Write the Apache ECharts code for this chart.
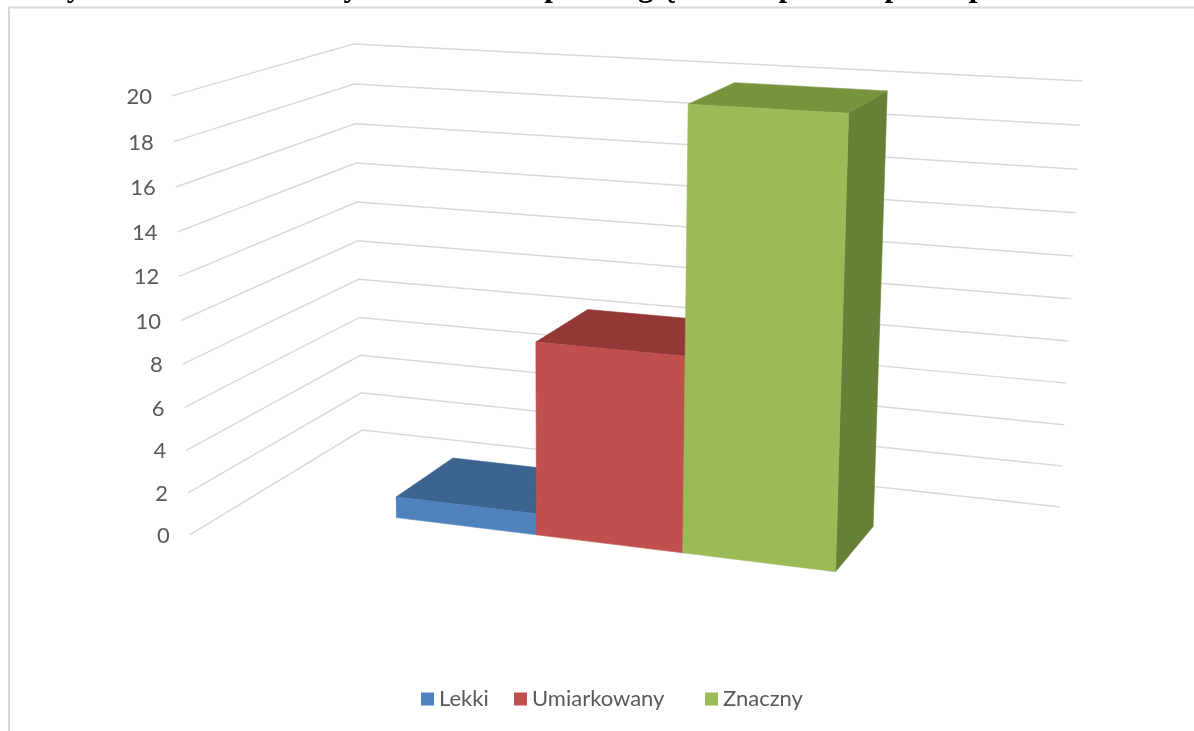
<!DOCTYPE html>
<html><head><meta charset="utf-8">
<script src="https://cdn.jsdelivr.net/npm/echarts@6/dist/echarts.min.js"></script>
<style>html,body{margin:0;padding:0;background:#fff}#c{width:1194px;height:731px}</style>
</head><body><div id="c"></div>
<script>
// ---- data ----
const seriesNames = ['Lekki', 'Umiarkowany', 'Znaczny'];
const seriesValues = [1, 9, 20];
const yTicks = [0, 2, 4, 6, 8, 10, 12, 14, 16, 18, 20];
const titleText = 'Wykres 9. Podział chorych w badaniu pod względem stopnia niepełnosprawności';

// ---- styling ----
const frontColors = ['#4F81BD', '#C0504D', '#9BBB59'];
const topColors = ['#3D6491', '#933836', '#77933C'];
const sideColors = ['#35577F', '#86302E', '#677F37'];
const labelFont = '22px Lato';
const textColor = '#595959';

// ---- 3D scene layout (world units; Y in axis value units) ----
const WALL_W = 36.03, FLOOR_D = 18.13;
const BAR_X0 = 7.70, BAR_W = 6.96, BAR_Z_FRONT = -12.51, BAR_Z_BACK = -5.92;
const CAM = {cx: 550.2, cy: 362.8, f: 2512, T: [-9.745, 3.479, 130.07],
  ex: [0.9320, 0.0905, -0.3511], ey: [-0.0020, -0.9670, -0.2547], ez: [0.3626, -0.2381, 0.9010]};
function proj(X, Y, Z) {
  const c = [0, 1, 2].map(i => CAM.T[i] + X * CAM.ex[i] + Y * CAM.ey[i] + Z * CAM.ez[i]);
  return [CAM.cx + CAM.f * c[0] / c[2], CAM.cy + CAM.f * c[1] / c[2]];
}
const Y_MAX = yTicks[yTicks.length - 1];
// value -> world height through the (hidden) cartesian axes
function worldY(params, api, v) {
  const p = api.coord([0, v]);
  const r = params.coordSys;
  return (r.y + r.height - p[1]) / r.height * Y_MAX;
}

const chart = echarts.init(document.getElementById('c'));

const gridSeries = {
  type: 'custom', name: '__grid', silent: true, clip: false, z: 1,
  data: yTicks.map(v => [0, v]),
  renderItem(params, api) {
    const v = api.value(1);
    const Y = worldY(params, api, v);
    const L = proj(0, Y, -FLOOR_D), B = proj(0, Y, 0), R = proj(WALL_W, Y, 0);
    return {type: 'group', children: [
      {type: 'polyline', shape: {points: [L, B, R]}, style: {stroke: '#d9d9d9', lineWidth: 1.5, fill: null}},
      {type: 'text', style: {text: String(v), x: L[0] - 20, y: L[1] + 1, align: 'right', verticalAlign: 'middle', fill: textColor, font: labelFont}}
    ]};
  }
};

function face(pts, color) {
  return {type: 'polygon', shape: {points: pts}, style: {fill: color, stroke: color, lineWidth: 0.6}};
}

const barSeries = seriesNames.map((name, i) => ({
  type: 'custom', name, silent: true, clip: false, z: 2 + i,
  itemStyle: {color: frontColors[i]},
  data: [[0, seriesValues[i]]],
  renderItem(params, api) {
    const Y1 = worldY(params, api, api.value(1));
    const x0 = BAR_X0 + i * BAR_W, x1 = x0 + BAR_W;
    const z0 = BAR_Z_FRONT, z1 = BAR_Z_BACK;
    const right = [proj(x1, 0, z0), proj(x1, 0, z1), proj(x1, Y1, z1), proj(x1, Y1, z0)];
    const top = [proj(x0, Y1, z0), proj(x1, Y1, z0), proj(x1, Y1, z1), proj(x0, Y1, z1)];
    const front = [proj(x0, 0, z0), proj(x1, 0, z0), proj(x1, Y1, z0), proj(x0, Y1, z0)];
    return {type: 'group', children: [face(right, sideColors[i]), face(top, topColors[i]), face(front, frontColors[i])]};
  }
}));

const legendLeft = [421, 514, 705];

chart.setOption({
  animation: false,
  backgroundColor: '#ffffff',
  grid: {left: 0, top: 0, width: 360, height: 200, show: false},
  xAxis: {type: 'value', min: 0, max: 1, show: false},
  yAxis: {type: 'value', min: 0, max: Y_MAX, interval: 2, show: false},
  legend: seriesNames.map((n, i) => ({
    data: [n], left: legendLeft[i], top: 688, icon: 'rect', itemWidth: 13, itemHeight: 13,
    padding: 0, selectedMode: false,
    textStyle: {fontFamily: 'Lato', fontSize: 22, color: textColor}
  })),
  graphic: [
    {type: 'text', x: 37, y: -12, silent: true, style: {text: titleText, font: 'bold 31px "Liberation Serif"', fill: '#000', verticalAlign: 'middle'}},
    {type: 'rect', silent: true, shape: {x: 9, y: 7.5, width: 1300, height: 900}, style: {fill: null, stroke: '#d9d9d9', lineWidth: 2}}
  ],
  series: [gridSeries, ...barSeries]
});
</script></body></html>
